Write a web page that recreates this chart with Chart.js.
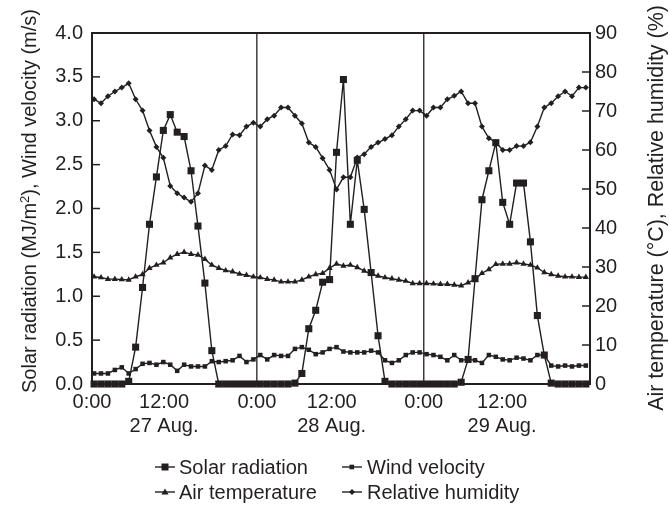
<!DOCTYPE html>
<html><head><meta charset="utf-8">
<script src="https://cdn.jsdelivr.net/npm/chart.js@4"></script>
<style>
html,body{margin:0;padding:0;background:#fff;}
#wrap{position:relative;width:669px;height:509px;font-family:"Liberation Sans",Arial,sans-serif;color:#231f20;overflow:hidden;}
canvas{position:absolute;left:0;top:0;}
.ytitle{position:absolute;width:460px;height:22px;text-align:center;white-space:nowrap;font-size:20px;line-height:22px;transform-origin:50% 50%;transform:rotate(-90deg);}
.ytitle sup{font-size:13px;line-height:0;vertical-align:7px;}
.leg{position:absolute;font-size:20px;line-height:24px;white-space:nowrap;}
.legm{position:absolute;}
</style></head>
<body><div id="wrap"><canvas id="c" width="669" height="509"></canvas>
<div class="ytitle" style="left:-201px;top:190px;">Solar radiation (MJ/m<sup>2</sup>), Wind velocity (m/s)</div>
<div class="ytitle" style="left:426px;top:197px;font-size:21.4px;">Air temperature (°C), Relative humidity (%)</div>
<div id="legend"></div>
</div>
<script>
// ---- data (hourly readings, index = hour from start of 27 Aug) ----
const seriesNames = ["Solar radiation", "Wind velocity", "Air temperature", "Relative humidity"];

const solarRadiation = [
  0,0,0,0,0,0.03,0.42,1.10,1.82,2.36,2.89,3.07,2.87,2.82,2.43,1.80,1.15,0.38,0,0,0,0,0,0,
  0,0,0,0,0,0.01,0.12,0.63,0.84,1.16,1.19,2.64,3.47,1.82,2.55,1.99,1.27,0.55,0.03,0,0,0,0,0,
  0,0,0,0,0,0.02,0.28,1.20,2.10,2.43,2.75,2.07,1.82,2.29,2.29,1.62,0.78,0.33,0.01,0,0,0,0,0
];
const windVelocity = [
  0.12,0.12,0.12,0.16,0.19,0.12,0.17,0.23,0.24,0.22,0.25,0.22,0.15,0.22,0.20,0.20,0.20,0.26,0.25,0.26,0.27,0.32,0.25,0.28,
  0.33,0.28,0.33,0.32,0.32,0.40,0.42,0.39,0.34,0.36,0.40,0.42,0.37,0.36,0.36,0.36,0.38,0.36,0.27,0.24,0.27,0.33,0.36,0.36,
  0.34,0.33,0.31,0.27,0.33,0.27,0.28,0.27,0.24,0.33,0.31,0.28,0.27,0.30,0.29,0.27,0.33,0.33,0.21,0.20,0.21,0.20,0.21,0.21
];
const airTemperature = [
  27.5,27.3,26.9,26.9,26.8,26.7,27.5,28.1,29.7,30.5,31.1,32.4,33.3,33.8,33.3,33.1,32.0,30.5,29.7,29.1,28.8,28.2,27.9,27.5,
  27.3,26.9,26.7,26.2,26.2,26.2,26.7,27.5,28.1,28.4,29.7,30.8,30.3,30.5,29.9,29.0,28.2,27.7,27.3,27.0,26.7,26.4,25.8,25.8,
  25.8,25.7,25.6,25.6,25.4,25.2,26.0,26.8,28.4,29.4,30.7,30.8,30.8,31.1,30.8,30.5,29.8,28.6,28.1,27.7,27.5,27.5,27.4,27.4
];
const relativeHumidity = [
  73.0,72.0,73.8,75.0,76.0,77.1,73.0,70.1,65.0,60.8,58.0,50.8,48.9,47.8,46.7,48.9,56.0,54.9,60.0,61.0,64.0,63.8,66.0,67.0,
  66.0,67.9,68.8,70.9,70.9,68.8,66.8,61.9,60.8,57.9,54.9,49.9,53.0,53.0,58.1,58.9,60.8,61.9,62.8,63.8,66.0,67.9,70.1,70.1,
  68.8,70.9,70.9,73.0,73.9,75.0,72.0,72.0,66.0,63.0,62.0,60.0,60.0,61.0,61.0,62.0,66.0,70.9,72.0,73.8,75.0,73.8,76.0,76.0
];

// x-axis tick positions (in hour-index units, as placed in the figure) and labels
const xTickPos = [-0.3, 10.1, 23.5, 34.3, 47.6, 58.9];
const xTickLabels = [["0:00",""],["12:00","27 Aug."],["0:00",""],["12:00","28 Aug."],["0:00",""],["12:00","29 Aug."]];
const dayLines = [23.5, 47.6];
const leftTicks = [0,0.5,1,1.5,2,2.5,3,3.5,4];
const rightTicks = [0,10,20,30,40,50,60,70,80,90];

const ink = "#231f20";
const FONT = "'Liberation Sans', Arial, sans-serif";
const hours = solarRadiation.map((_, i) => i);
const pts = arr => arr.map((v, i) => ({x: hours[i], y: v}));

const framePlugin = {
  id: 'frame',
  beforeDatasetsDraw(chart) {
    const {ctx, chartArea: a, scales: {x}} = chart;
    ctx.save();
    ctx.strokeStyle = ink; ctx.lineWidth = 1.3;
    dayLines.forEach(v => {
      const px = x.getPixelForValue(v);
      ctx.beginPath(); ctx.moveTo(px, a.top); ctx.lineTo(px, a.bottom); ctx.stroke();
    });
    ctx.restore();
  },
  afterDatasetsDraw(chart) {
    const {ctx, chartArea: a, scales: {y, y2}} = chart;
    ctx.save();
    ctx.strokeStyle = ink; ctx.lineWidth = 2;
    ctx.strokeRect(a.left, a.top, a.right - a.left, a.bottom - a.top);
    ctx.lineWidth = 1.5;
    leftTicks.forEach(v => {
      const py = y.getPixelForValue(v);
      ctx.beginPath(); ctx.moveTo(a.left, py); ctx.lineTo(a.left + 8, py); ctx.stroke();
    });
    rightTicks.forEach(v => {
      const py = y2.getPixelForValue(v);
      ctx.beginPath(); ctx.moveTo(a.right - 8, py); ctx.lineTo(a.right, py); ctx.stroke();
    });
    ctx.restore();
  }
};

const common = {borderColor: ink, backgroundColor: ink, pointBorderColor: ink, pointBackgroundColor: ink,
  borderWidth: 1.4, tension: 0, clip: false, pointBorderWidth: 0};

new Chart(document.getElementById('c'), {
  type: 'line',
  data: {
    datasets: [
      {...common, label: seriesNames[0], data: pts(solarRadiation), yAxisID: 'y', pointStyle: 'rect', pointRadius: 5, pointHoverRadius: 5},
      {...common, label: seriesNames[1], data: pts(windVelocity), yAxisID: 'y', pointStyle: 'rect', pointRadius: 3.2, pointHoverRadius: 3.2},
      {...common, label: seriesNames[2], data: pts(airTemperature), yAxisID: 'y2', pointStyle: 'triangle', pointRadius: 3.6, pointHoverRadius: 3.6},
      {...common, label: seriesNames[3], data: pts(relativeHumidity), yAxisID: 'y2', pointStyle: 'rectRot', pointRadius: 3, pointHoverRadius: 3}
    ]
  },
  options: {
    responsive: false, animation: false,
    layout: {padding: {top: 33, left: 0, right: 0, bottom: 0}},
    plugins: {legend: {display: false}, tooltip: {enabled: false}},
    scales: {
      x: {
        type: 'linear', min: -0.3, max: 71.6, bounds: 'data',
        afterBuildTicks: s => { s.ticks = xTickPos.map(v => ({value: v})); },
        afterFit: s => { s.height = 125; },
        grid: {display: false, drawTicks: false}, border: {display: false},
        ticks: {autoSkip: false, maxRotation: 0, padding: 6, color: ink,
          font: {family: FONT, size: 20, lineHeight: 1.2},
          callback: (v, i) => xTickLabels[i]}
      },
      y: {
        position: 'left', min: 0, max: 4,
        afterBuildTicks: s => { s.ticks = leftTicks.map(v => ({value: v})); },
        afterFit: s => { s.width = 92; },
        grid: {display: false, drawTicks: false}, border: {display: false},
        ticks: {padding: 9, color: ink, font: {family: FONT, size: 20}, callback: v => v.toFixed(1)}
      },
      y2: {
        position: 'right', min: 0, max: 90,
        afterBuildTicks: s => { s.ticks = rightTicks.map(v => ({value: v})); },
        afterFit: s => { s.width = 79; },
        grid: {display: false, drawTicks: false}, border: {display: false},
        ticks: {padding: 5, color: ink, font: {family: FONT, size: 20}, callback: v => String(v)}
      }
    }
  },
  plugins: [framePlugin]
});

// ---- legend (HTML, two columns) ----
const markerSvg = {
  0: '<rect x="7.5" y="8.5" width="7" height="7" fill="' + ink + '"/>',
  1: '<rect x="8.5" y="9.7" width="4.6" height="4.6" fill="' + ink + '"/>',
  2: '<polygon points="11,8.6 14.6,14.6 7.4,14.6" fill="' + ink + '"/>',
  3: '<polygon points="11,9 14,12 11,15 8,12" fill="' + ink + '"/>'
};
const legPos = [
  {mx: 154, tx: 179, top: 455},
  {mx: 341, tx: 367, top: 455},
  {mx: 154, tx: 179, top: 480},
  {mx: 341, tx: 367, top: 480}
];
let lh = '';
seriesNames.forEach((name, i) => {
  const p = legPos[i];
  lh += '<svg class="legm" style="left:' + p.mx + 'px;top:' + p.top + 'px" width="22" height="24">' +
        '<line x1="1" y1="12" x2="21" y2="12" stroke="' + ink + '" stroke-width="1.4"/>' + markerSvg[i] + '</svg>';
  lh += '<div class="leg" style="left:' + p.tx + 'px;top:' + p.top + 'px">' + name + '</div>';
});
document.getElementById('legend').innerHTML = lh;
</script>
</body></html>
